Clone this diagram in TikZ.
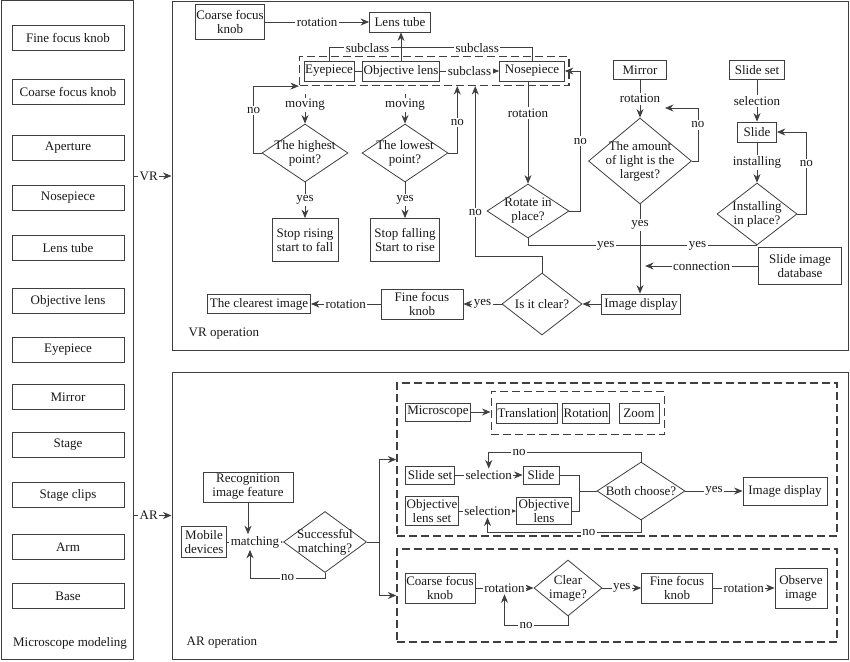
\documentclass[tikz,border=0pt]{standalone}
\usepackage{fontspec}
\setmainfont{Liberation Serif}
\usetikzlibrary{arrows.meta,shapes.geometric,fit}
\definecolor{ln}{HTML}{3F3F3F}
\tikzset{
  blk/.style={draw=ln, line width=0.8pt, fill=white, inner sep=1pt, align=center},
  dia/.style={diamond, draw=ln, line width=0.8pt, fill=white, inner sep=0pt},
  dtxt/.style={align=center, inner sep=0pt},
  lbl/.style={fill=white, inner sep=1.5pt},
  arr/.style={-{Stealth[length=8.5pt,width=7pt]}},
  dashbox/.style={draw=ln, line width=1.4pt, dash pattern=on 8pt off 4pt},
  panel/.style={draw=ln, line width=1pt, inner sep=0pt},
}
% box and decision macros
\newcommand{\blk}[6]{\node[blk, minimum width=#4, minimum height=#5] (#1) at (#2,#3) {#6};}
\newcommand{\dmd}[6]{\node[dia, minimum width=#4, minimum height=#5, label={[dtxt]center:#6}] (#1) at (#2,#3) {};}

\begin{document}
\begin{tikzpicture}[x=1pt, y=-1pt, font=\fontsize{13}{14}\selectfont, draw=ln, line width=0.8pt, text=black!90]
  \useasboundingbox (0,0) rectangle (850,661);

  % microscope modeling
  \node[panel, minimum width=132, minimum height=658] (model) at (67,330) {};
  \foreach \y/\txt [count=\i] in {38/Fine focus knob, 92/Coarse focus knob, 148/Aperture,
      198/Nosepiece, 248/Lens tube, 301/Objective lens, 350/Eyepiece, 397/Mirror,
      445/Stage, 495/Stage clips, 547/Arm, 596/Base}
    \node[blk, minimum width=112, minimum height=25] (part\i) at (68,\y) {\txt};
  \node (mlab) at (70,643) {Microscope modeling};

  % VR operation
  \node[panel, minimum width=676, minimum height=348] (vrp) at (510,176) {};
  \node[anchor=west] (vrlab) at (185,334) {VR operation};
  \blk{ck}{230}{22}{66}{35}{Coarse focus\\knob}
  \blk{lt}{400}{22}{61}{20}{Lens tube}
  \blk{eye}{329}{71}{50}{20}{Eyepiece}
  \blk{obj}{401}{71}{76}{20}{Objective lens}
  \blk{nose}{532}{71}{65}{20}{Nosepiece}
  \node[dashbox, fit=(eye)(obj)(nose), inner sep=4pt] (sub) {};
  \dmd{hi}{305}{153}{86}{58}{The highest\\point?}
  \dmd{lo}{405}{153}{86}{58}{The lowest\\point?}
  \blk{rise}{305}{240}{66}{43}{Stop rising\\start to fall}
  \blk{fall}{405}{240}{69}{43}{Stop falling\\Start to rise}
  \dmd{rot}{528}{211}{82}{54}{Rotate in\\place?}
  \blk{mir}{640}{70}{53}{19}{Mirror}
  \dmd{amt}{640}{161}{103}{86}{The amount\\of light is the\\largest?}
  \blk{sset}{757}{70}{55}{19}{Slide set}
  \blk{sld}{757}{132}{39}{20}{Slide}
  \dmd{inst}{757}{214}{80}{62}{Installing\\in place?}
  \blk{sdb}{800}{266}{83}{37}{Slide image\\database}
  \blk{disp}{641}{304}{79}{20}{Image display}
  \dmd{clr}{542}{304}{80}{62}{Is it clear?}
  \blk{ff}{422}{304}{82}{30}{Fine focus\\knob}
  \blk{best}{259}{304}{103}{19}{The clearest image}
  \coordinate (amtin) at (665,108);

  \draw[arr] (ck) -- node[lbl]{rotation} (lt);
  \draw[arr] (obj.north) -- (obj.north |- lt.south);
  \draw (eye) -- (obj);
  \draw (eye.north) -- ++(0,-13) coordinate (s1) -- node[lbl,pos=0.19]{subclass}
    node[lbl,pos=0.73]{subclass} (s1 -| nose.north) -- (nose.north);
  \draw[arr] (obj) -- node[lbl]{subclass} (nose);
  \draw[arr, shorten <=8pt] (sub.south -| hi.north) -- node[lbl]{moving} (hi.north);
  \draw[arr, shorten <=8pt] (sub.south -| lo.north) -- node[lbl]{moving} (lo.north);
  \draw[arr] (hi.west) -- ++(-8,0) |- node[lbl,pos=0.32]{no} (sub.south west);
  \draw[arr] (hi) -- node[lbl]{yes} (rise);
  \draw[arr] (lo) -- node[lbl]{yes} (fall);
  \draw[arr] (lo.east) -| node[lbl,pos=0.73]{no} ([xshift=23pt]sub.south);
  \draw[arr] (clr.north) -- ++(0,-16) -| node[lbl,pos=0.63]{no} ([xshift=41pt]sub.south);
  \draw[arr] (rot.north |- nose.south) -- node[lbl,pos=0.31]{rotation} (rot.north);
  \draw[arr] (rot.east) -- ++(11,0) |- node[lbl,pos=0.25]{no} (nose.east);
  \draw (rot.south) |- node[lbl,pos=0.67]{yes} node[lbl,pos=0.87]{yes} (inst.south);
  \draw[arr] (mir) -- node[lbl]{rotation} (amt);
  \draw[arr] (amt.east) -- ++(6,0) |- node[lbl,pos=0.34]{no} (amtin);
  \draw[arr] (amt.south) -- node[lbl,pos=0.23]{yes} (amt.south |- disp.north);
  \draw[arr] (sdb.west) -- node[lbl]{connection} ++(-113,0);
  \draw[arr] (disp) -- (clr);
  \draw[arr] (clr) -- node[lbl]{yes} (ff);
  \draw[arr] (ff) -- node[lbl]{rotation} (best);
  \draw[arr] (sset) -- node[lbl]{selection} (sld);
  \draw[arr] (sld) -- node[lbl]{installing} (inst);
  \draw[arr] (inst.east) -- ++(9,0) |- node[lbl,pos=0.31]{no} (sld.east);

  % AR operation
  \node[panel, minimum width=676, minimum height=287] (arp) at (510,515.5) {};
  \node[anchor=west] (arlab) at (183,643) {AR operation};
  \blk{rec}{248}{487}{90}{30}{Recognition\\image feature}
  \blk{mob}{204}{542}{45}{31}{Mobile\\devices}
  \dmd{succ}{325}{542}{83}{61}{Successful\\matching?}
  \node[dashbox, minimum width=440, minimum height=153] (upd) at (617,459.5) {};
  \node[dashbox, minimum width=440, minimum height=93] (lwd) at (617,595.5) {};
  \blk{msc}{438}{412}{65}{18}{Microscope}
  \blk{trn}{527}{413}{60}{20}{Translation}
  \blk{rtn}{586}{413}{47}{20}{Rotation}
  \blk{zm}{639}{413}{40}{20}{Zoom}
  \node[dashbox, fit=(trn)(rtn)(zm), inner xsep=5pt, inner ysep=11pt] (mov) {};
  \blk{ss2}{430}{475}{49}{18}{Slide set}
  \blk{sl2}{541}{475}{36}{18}{Slide}
  \blk{ols}{432}{511}{53}{29}{Objective\\lens set}
  \blk{ol}{544}{511}{55}{27}{Objective\\lens}
  \dmd{both}{641}{491}{88}{58}{Both choose?}
  \blk{adisp}{785}{491}{84}{28}{Image display}
  \blk{cfk}{440}{588}{70}{30}{Coarse focus\\knob}
  \dmd{cimg}{568}{588}{68}{56}{Clear\\image?}
  \blk{ffk}{677}{588}{71}{30}{Fine focus\\knob}
  \blk{obs}{801}{588}{52}{40}{Observe\\image}

  \draw[arr] (mob) -- node[lbl](mtc){matching} (succ);
  \draw[arr] (rec.south) -- (rec.south |- mtc.north);
  \draw[arr] (succ.south) -- ++(0,5) -| node[lbl,pos=0.25]{no} ([xshift=-5pt]mtc.south);
  \draw[arr] (succ.east) -- ++(12,0) |- (upd.west);
  \draw[arr] (succ.east) -- ++(12,0) |- (lwd.west);
  \draw[arr] (msc) -- (msc -| mov.west);
  \draw[arr] (ss2) -- node[lbl](sel1){selection} (sl2);
  \draw[arr] (ols) -- node[lbl](sel2){selection} (ol);
  \draw (sl2.east) -| ([xshift=-17pt]both.west) -- (both.west);
  \draw (ol.east) -| ([xshift=-17pt]both.west);
  \draw[arr] (both.north) -- ++(0,-9) -| node[lbl,pos=0.4]{no} (sel1.north);
  \draw[arr] (both.south) -- ++(0,12) -| node[lbl,pos=0.17]{no} (sel2.south);
  \draw[arr] (both) -- node[lbl]{yes} (adisp);
  \draw[arr] (cfk) -- node[lbl](rl){rotation} (cimg);
  \draw[arr] (cimg.south) -- ++(0,9) -| node[lbl,pos=0.33]{no} (rl.south);
  \draw[arr] (cimg) -- node[lbl]{yes} (ffk);
  \draw[arr] (ffk) -- node[lbl]{rotation} (obs);

  % links
  \draw[arr] (model.east |- vrp.west) -- node[lbl,pos=0.4]{VR} (vrp.west);
  \draw[arr] (model.east |- arp.west) -- node[lbl,pos=0.4]{AR} (arp.west);
\end{tikzpicture}
\end{document}
